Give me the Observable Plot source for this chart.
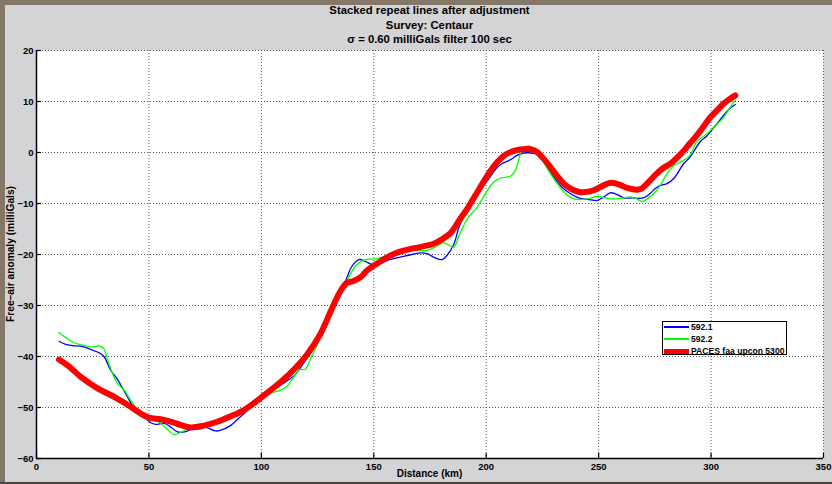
<!DOCTYPE html>
<html><head><meta charset="utf-8">
<script src="https://cdn.jsdelivr.net/npm/d3@7"></script>
<script src="https://cdn.jsdelivr.net/npm/@observablehq/plot@0.6"></script>
<style>
body{margin:0;background:#d4d4d6;}
#fig{position:relative;width:832px;height:484px;background:#d4d4d6;overflow:hidden;font-family:"Liberation Sans",Arial,sans-serif;font-weight:bold;color:#000;}
#fig svg{position:absolute;left:0;top:0;}
.bt{position:absolute;left:0;top:0;width:832px;height:5px;background:#857767;}
.bl{position:absolute;left:0;top:0;width:5px;height:484px;background:#857767;}
.bb{position:absolute;left:0;bottom:0;width:832px;height:2px;background:#4a4540;}
.title{position:absolute;left:36px;width:787px;text-align:center;font-size:11.3px;line-height:14px;white-space:nowrap;}
.xlab{position:absolute;left:36px;width:787px;top:468px;text-align:center;font-size:10px;}
.ylab{position:absolute;left:10px;top:254px;transform:translate(-50%,-50%) rotate(-90deg);white-space:nowrap;font-size:10.2px;}
.legend{position:absolute;left:662px;top:321px;width:123px;height:32px;border:1px solid #000;background:#fff;font-size:8.6px;}
.legend div{position:absolute;left:28px;line-height:11px;white-space:nowrap;}
.legend span{position:absolute;left:1px;width:25px;}
</style></head>
<body>
<div id="fig">
  <div class="bt"></div><div class="bl"></div><div class="bb"></div>
</div>
<script>
const titleLines = ["Stacked repeat lines after adjustment", "Survey: Centaur", "σ = 0.60 milliGals filter 100 sec"];
const xLabel = "Distance (km)";
const yLabel = "Free–air anomaly (milliGals)";
const xTicks = [0, 50, 100, 150, 200, 250, 300, 350];
const yTicks = [-60, -50, -40, -30, -20, -10, 0, 10, 20];
const seriesNames = ["592.1", "592.2", "PACES faa upcon 5300"];
const seriesColors = ["#0000ff", "#00ff00", "#ff0000"];

const blueX = [10,13,16.7,20,24.1,28,30,33,36,40.4,43,46.4,50.8,53,56.7,59,62.7,66,71.6,76,79.7,83,86.4,89,92.3,96,101.2,104,108.6,112,115,118,122,126,131,134,137.5,140,143.4,146,150,153,157,161.9,167,170.8,174,177,180.4,182.5,185.6,188,191.6,196,200.4,204.9,207,210.8,213.5,216.7,220,222.6,226,230,233.5,237.5,240.5,243.4,246.5,249.3,252,255.2,258,261.2,265,270,273,275.9,278,280.4,283.4,287.8,290.8,295.3,298.2,302,305.6,308,310.8];
const blueY = [-37.0,-37.6,-37.9,-38.0,-38.6,-39.3,-40.0,-42.7,-44.5,-47.9,-49.8,-51.1,-53.0,-53.3,-53.1,-53.6,-54.8,-54.8,-53.7,-54.0,-54.6,-54.3,-53.5,-52.5,-51.2,-49.6,-47.9,-47.0,-45.6,-44.6,-43.6,-41.8,-39.2,-36.0,-31.0,-27.6,-25.1,-22.5,-21.0,-21.3,-22.1,-21.8,-21.0,-20.5,-20.0,-19.7,-19.9,-20.6,-21.0,-20.2,-18.0,-14.5,-11.3,-8.1,-5.6,-2.9,-2.2,-1.4,-0.6,-0.1,-0.1,-0.4,-2.0,-4.8,-6.7,-8.1,-8.8,-9.1,-9.3,-9.4,-8.8,-7.9,-8.2,-8.9,-8.9,-8.9,-8.0,-6.8,-6.4,-6.1,-5.1,-2.2,-0.8,2.2,3.3,5.3,7.3,8.5,9.4];

const greenX = [10,13,16.7,20,23,25.6,27.8,30,31.6,34,36,39,41.9,44,46.4,49,52.3,55,58,61.2,64,68.6,72,76,80.4,86,92.3,98,104,108.6,111,114,117,119.5,122,126,131,135,138.9,142,145.6,151.6,156,161.9,167,173.8,177,181.2,183.5,185.6,188,191.6,196,200,203.4,206.4,209.3,211,213,215,216.7,219,221,224.2,227.5,231.6,235,239,244.9,249.3,252,255.2,260,264.2,267,269.4,272,275.9,278,280.4,283.4,287.8,290.5,293.8,298.2,302,305.6,308,310.8];
const greenY = [-35.3,-36.3,-37.3,-37.7,-38.0,-38.1,-37.9,-38.5,-40.7,-43.5,-45.3,-46.6,-48.6,-50.0,-51.5,-52.2,-52.5,-53.0,-54.2,-55.3,-54.9,-53.8,-53.5,-53.4,-53.1,-52.0,-50.5,-48.6,-47.2,-46.6,-46.0,-44.3,-42.6,-42.5,-40.4,-36.5,-31.5,-27.5,-24.4,-22.2,-21.1,-20.8,-20.2,-19.5,-19.2,-19.2,-18.6,-17.7,-18.2,-18.6,-16.2,-13.0,-10.7,-7.8,-5.8,-5.0,-4.8,-4.6,-3.5,-0.6,0.9,1.3,0.8,-0.9,-3.4,-6.1,-7.9,-9.1,-9.1,-8.6,-8.8,-9.1,-9.0,-8.7,-9.1,-9.6,-9.0,-7.4,-6.0,-4.2,-2.6,-1.5,-0.6,2.2,3.7,5.3,6.9,8.5,10.3];

const redX = [10,14,20,27,34.5,40,46.4,50,55.2,60,64,68.6,74,80.4,86,92.3,100,108.6,115,120,126,131,135,138,141,144,147.1,152,157.5,162,166.4,171,176.7,180.4,184.1,188,191.6,196,200.4,203.5,206.4,209,212.3,215,218.2,220,222.6,225.5,228.6,231.5,234.5,238,241.9,245,247.8,251,254.5,257,259.7,263,267.1,269,271.5,275,278.9,282,284.9,288,290.8,293,295.3,299.7,303,305.6,308,310.8];
const redY = [-40.6,-41.8,-44.1,-46.2,-47.9,-49.3,-51.2,-52.0,-52.3,-52.8,-53.4,-53.9,-53.6,-52.8,-51.8,-50.5,-48.0,-45.0,-42.3,-39.8,-35.8,-31.0,-27.3,-25.6,-25.2,-24.5,-23.1,-21.6,-20.2,-19.4,-18.9,-18.5,-17.9,-17.0,-15.8,-13.3,-11.0,-7.8,-4.6,-2.6,-1.2,-0.3,0.3,0.6,0.7,0.6,0.1,-1.2,-2.9,-4.6,-6.1,-7.2,-7.8,-7.7,-7.4,-6.7,-6.0,-6.0,-6.4,-7.0,-7.3,-7.1,-6.1,-4.5,-3.0,-2.2,-1.0,0.4,1.9,3.0,4.3,6.9,8.4,9.6,10.4,11.2];

const mk = (xs, ys) => xs.map((x, i) => ({x, y: ys[i]}));
const blue = mk(blueX, blueY), green = mk(greenX, greenY), red = mk(redX, redY);
const fmt = d => d < 0 ? "−" + (-d) : String(d);

const chart = Plot.plot({
  width: 832, height: 484,
  marginLeft: 36, marginRight: 9, marginTop: 50, marginBottom: 26,
  style: {background: "transparent", fontFamily: '"Liberation Sans",Arial,sans-serif', fontWeight: "bold", fontSize: "9.5px", color: "#000"},
  x: {domain: [0, 350]},
  y: {domain: [-60, 20]},
  marks: [
    Plot.frame({fill: "white", stroke: "none"}),
    Plot.gridX(xTicks, {stroke: "#333", strokeOpacity: 0.8, strokeDasharray: "1,2"}),
    Plot.gridY(yTicks, {stroke: "#333", strokeOpacity: 0.8, strokeDasharray: "1,2"}),
    Plot.axisX(xTicks, {tickSize: 0, tickPadding: 5, tickFormat: fmt, label: null}),
    Plot.axisY(yTicks, {tickSize: 0, tickPadding: 3, tickFormat: fmt, label: null}),
    Plot.ruleX(xTicks, {x: d => d, y1: -60, y2: -59, stroke: "#000", strokeWidth: 1.2}),
    Plot.ruleY(yTicks, {y: d => d, x1: 0, x2: 2.2, stroke: "#000", strokeWidth: 1.2}),
    Plot.ruleX([0], {stroke: "#000", strokeWidth: 1.5}),
    Plot.ruleY([-60], {stroke: "#000", strokeWidth: 1.5}),
    Plot.line(blue, {x: "x", y: "y", stroke: seriesColors[0], strokeWidth: 1.3, curve: "catmull-rom"}),
    Plot.line(green, {x: "x", y: "y", stroke: seriesColors[1], strokeWidth: 1.3, curve: "catmull-rom"}),
    Plot.line(red, {x: "x", y: "y", stroke: seriesColors[2], strokeWidth: 6, curve: "catmull-rom"})
  ]
});
const fig = document.getElementById("fig");
fig.appendChild(chart);

titleLines.forEach((t, i) => {
  const d = document.createElement("div");
  d.className = "title"; d.textContent = t;
  d.style.top = (3 + i * 14.5) + "px";
  fig.appendChild(d);
});
const xl = document.createElement("div"); xl.className = "xlab"; xl.textContent = xLabel; fig.appendChild(xl);
const yl = document.createElement("div"); yl.className = "ylab"; yl.textContent = yLabel; fig.appendChild(yl);
const lg = document.createElement("div"); lg.className = "legend";
seriesNames.forEach((n, i) => {
  const sw = document.createElement("span");
  const h = i === 2 ? 5 : 1.5;
  sw.style.top = (5 + i * 12 - h / 2) + "px"; sw.style.height = h + "px"; sw.style.background = seriesColors[i];
  lg.appendChild(sw);
  const t = document.createElement("div"); t.textContent = n; t.style.top = (i * 12) + "px";
  lg.appendChild(t);
});
fig.appendChild(lg);
</script>
</body></html>
